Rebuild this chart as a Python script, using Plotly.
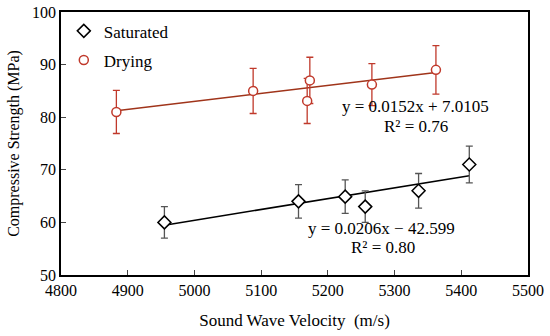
import plotly.graph_objects as go

sat_x = [4955, 5156, 5226, 5256, 5336, 5412]
sat_y = [60.0, 64.0, 64.9, 63.0, 66.0, 71.0]
sat_err = [3.0, 3.2, 3.2, 3.0, 3.3, 3.5]

dry_x = [4883, 5088, 5169, 5173, 5266, 5362]
dry_y = [81.0, 85.0, 83.1, 87.0, 86.2, 89.0]
dry_err = [4.1, 4.3, 4.3, 4.4, 4.0, 4.6]

sat_fit = (0.0206, -42.599)
dry_fit = (0.0152, 7.0105)

x_ticks = [4800, 4900, 5000, 5100, 5200, 5300, 5400, 5500]
y_ticks = [50, 60, 70, 80, 90, 100]

FONT = "Liberation Serif, Times New Roman, serif"
RED = "#C0392B"
DRED = "#A0341A"

fig = go.Figure()

sx = [min(sat_x), max(sat_x)]
dx = [min(dry_x), max(dry_x)]
fig.add_trace(go.Scatter(x=sx, y=[sat_fit[0] * v + sat_fit[1] for v in sx], mode="lines",
                         line=dict(color="black", width=1.5), showlegend=False, hoverinfo="skip"))
fig.add_trace(go.Scatter(x=dx, y=[dry_fit[0] * v + dry_fit[1] for v in dx], mode="lines",
                         line=dict(color=DRED, width=1.5), showlegend=False, hoverinfo="skip"))

fig.add_trace(go.Scatter(
    x=sat_x, y=sat_y, mode="markers", name="Saturated", legendgroup="a",
    marker=dict(symbol="diamond", size=10, color="white", line=dict(color="black", width=1.5)),
    error_y=dict(type="data", array=sat_err, color="#555555", thickness=1.3, width=3.5)))
fig.add_trace(go.Scatter(
    x=dry_x, y=dry_y, mode="markers", name="Drying", legendgroup="b",
    marker=dict(symbol="circle", size=9, color="white", line=dict(color=RED, width=1.5)),
    error_y=dict(type="data", array=dry_err, color=RED, thickness=1.3, width=3.5)))

ann_font = dict(family=FONT, size=17, color="black")
fig.add_annotation(x=5332, y=82.1, text="y = 0.0152x + 7.0105", showarrow=False, font=ann_font)
fig.add_annotation(x=5332, y=78.3, text="R² = 0.76", showarrow=False, font=ann_font)
fig.add_annotation(x=5281, y=58.9, text="y = 0.0206x − 42.599", showarrow=False, font=ann_font)
fig.add_annotation(x=5283, y=55.3, text="R² = 0.80", showarrow=False, font=ann_font)

fig.update_layout(
    width=550, height=336,
    margin=dict(l=61, r=22, t=12, b=61, autoexpand=False),
    paper_bgcolor="white", plot_bgcolor="white",
    font=dict(family=FONT, size=17, color="black"),
    legend=dict(x=0.006, y=0.995, xanchor="left", yanchor="top", bgcolor="rgba(0,0,0,0)",
                font=dict(family=FONT, size=17), tracegroupgap=4, itemwidth=30),
    xaxis=dict(range=[4800, 5500], tickvals=x_ticks, ticks="inside", ticklen=5,
               showgrid=False, zeroline=False, showline=True, linecolor="black", linewidth=1.5,
               mirror=True, tickfont=dict(size=16), automargin=False,
               title=dict(text="Sound Wave Velocity  (m/s)", font=dict(size=17), standoff=16)),
    yaxis=dict(range=[50, 100], tickvals=y_ticks, ticks="inside", ticklen=5,
               showgrid=False, zeroline=False, showline=True, linecolor="black", linewidth=1.5,
               mirror=True, tickfont=dict(size=16), automargin=False,
               title=dict(text="Compressive Strength (MPa)", font=dict(size=16), standoff=8)),
)

fig.write_html("out.html", config={"displayModeBar": False},
               post_script="document.body.style.margin='0px';")
